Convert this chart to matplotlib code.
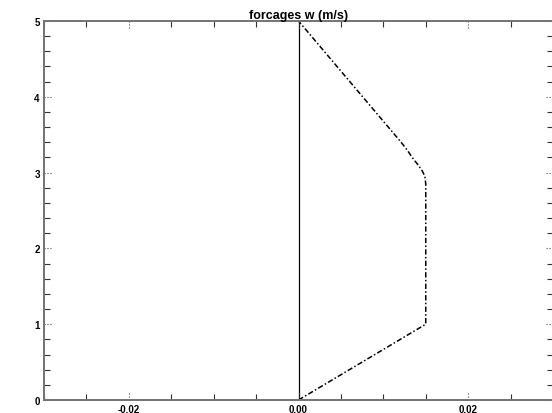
import matplotlib
matplotlib.use('Agg')
import matplotlib.pyplot as plt
from matplotlib.ticker import MultipleLocator, FixedLocator

# forcing profile
w_values = [0.0, 0.015, 0.015, 0.0149, 0.0146, 0.0141, 0.0134, 0.0128, 0.0121, 0.0]
z_levels = [0.0, 1.0, 2.85, 2.95, 3.02, 3.1, 3.2, 3.3, 3.4, 5.0]

x_ticks = [-0.02, 0.0, 0.02]
x_labels = ['-0.02', '0.00', '0.02']
y_ticks = [0, 1, 2, 3, 4, 5]

plt.rcParams['font.family'] = ['Liberation Sans', 'DejaVu Sans']

fig = plt.figure(figsize=(5.52, 4.14), dpi=100)
ax = fig.add_axes([44/552, 13/414, 509/552, 379/414])

ax.axvline(0, color='k', lw=0.9)
ax.plot(w_values, z_levels, color='k', lw=1.1, linestyle=(0, (3.5, 1.5, 1, 1.5)))

ax.set_xlim(-0.03, 0.03)
ax.set_ylim(0, 5)

ax.xaxis.set_major_locator(FixedLocator(x_ticks))
ax.set_xticklabels(x_labels)
ax.yaxis.set_major_locator(FixedLocator(y_ticks))
ax.xaxis.set_minor_locator(MultipleLocator(0.005))
ax.yaxis.set_minor_locator(MultipleLocator(0.2))

ax.tick_params(which='both', direction='in', top=True, right=True)
ax.tick_params(which='major', length=0, labelsize=7, pad=3)
ax.tick_params(which='minor', length=4, width=0.8, color='0.2')
for lab in ax.get_xticklabels() + ax.get_yticklabels():
    lab.set_fontweight('bold')

# dotted major ticks, like the original
tx = ax.get_xaxis_transform()
ty = ax.get_yaxis_transform()
for xv in x_ticks:
    ax.plot([xv, xv], [0, 0.022], color='0.3', lw=0.8, ls=':', transform=tx, clip_on=False)
    ax.plot([xv, xv], [1, 1 - 0.022], color='0.3', lw=0.8, ls=':', transform=tx, clip_on=False)
for yv in y_ticks:
    ax.plot([0, 0.016], [yv, yv], color='0.3', lw=0.8, ls=':', transform=ty, clip_on=False)
    ax.plot([1, 1 - 0.016], [yv, yv], color='0.3', lw=0.8, ls=':', transform=ty, clip_on=False)

for sp in ax.spines.values():
    sp.set_color('0.45')
    sp.set_linewidth(1.4)

ax.set_title('forcages w (m/s)', fontsize=9, fontweight='bold', pad=2)

fig.savefig('out.png', dpi=100)
